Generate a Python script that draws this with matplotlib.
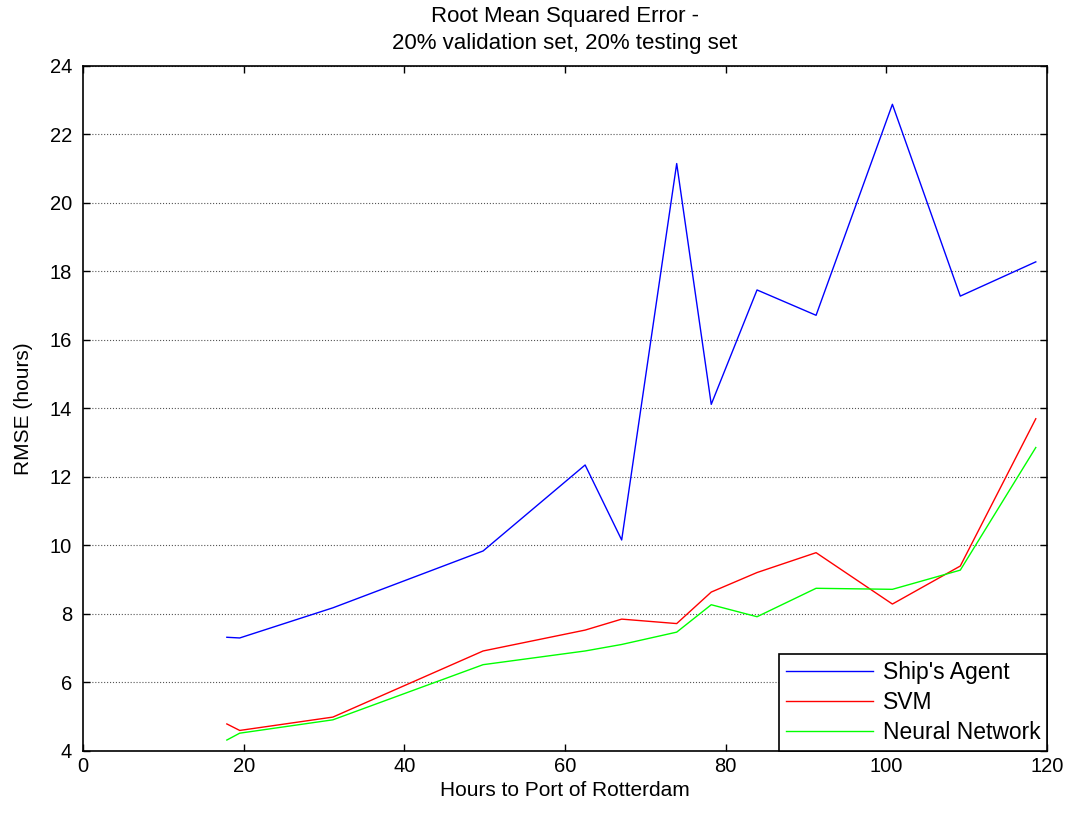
import matplotlib
matplotlib.use('Agg')
import matplotlib.pyplot as plt

plt.rcParams['font.family'] = ['Liberation Sans', 'DejaVu Sans']

# Hours to port (shared by all three series)
hours = [17.9, 19.5, 31.1, 49.8, 62.5, 67.05, 73.9, 78.2, 83.9, 91.25, 100.75, 109.2, 118.6]

ships_agent = [7.32, 7.3, 8.18, 9.84, 12.35, 10.16, 21.15, 14.12, 17.46, 16.72, 22.88, 17.28, 18.28]
svm = [4.79, 4.6, 4.99, 6.92, 7.53, 7.85, 7.72, 8.64, 9.21, 9.79, 8.29, 9.40, 13.70]
neural_net = [4.32, 4.52, 4.91, 6.52, 6.92, 7.11, 7.47, 8.27, 7.92, 8.75, 8.72, 9.28, 12.86]

x_ticks = [0, 20, 40, 60, 80, 100, 120]
y_ticks = [4, 6, 8, 10, 12, 14, 16, 18, 20, 22, 24]

fig = plt.figure(figsize=(10.73, 8.14), dpi=100)
ax = fig.add_axes([0.0774, 0.0774, 0.8984, 0.8416])

ax.plot(hours, ships_agent, color='#0000ff', linewidth=1.0, label="Ship's Agent")
ax.plot(hours, svm, color='#ff0000', linewidth=1.0, label='SVM')
ax.plot(hours, neural_net, color='#00ff00', linewidth=1.0, label='Neural Network')

ax.set_xlim(0, 120)
ax.set_ylim(4, 24)
ax.set_xticks(x_ticks)
ax.set_yticks(y_ticks)
ax.tick_params(direction='in', top=True, right=True, length=5, width=1,
               labelsize=14.5)
ax.tick_params(axis='x', pad=4)
ax.tick_params(axis='y', pad=8)
ax.yaxis.grid(True, linestyle=':', color='#555555', linewidth=0.8)
for s in ax.spines.values():
    s.set_linewidth(1.2)

ax.set_xlabel('Hours to Port of Rotterdam', fontsize=15, labelpad=4)
ax.set_ylabel('RMSE (hours)', fontsize=15, labelpad=12)
ax.set_title('Root Mean Squared Error -\n20% validation set, 20% testing set',
             fontsize=16, pad=12, linespacing=1.4)

leg = ax.legend(loc='lower right', fontsize=16.5, fancybox=False, framealpha=1,
                edgecolor='black', handlelength=3.8, handletextpad=0.4,
                borderaxespad=0.0, labelspacing=0.3, borderpad=0.3)
leg.get_frame().set_linewidth(1.2)

fig.savefig('out.png', dpi=100)
